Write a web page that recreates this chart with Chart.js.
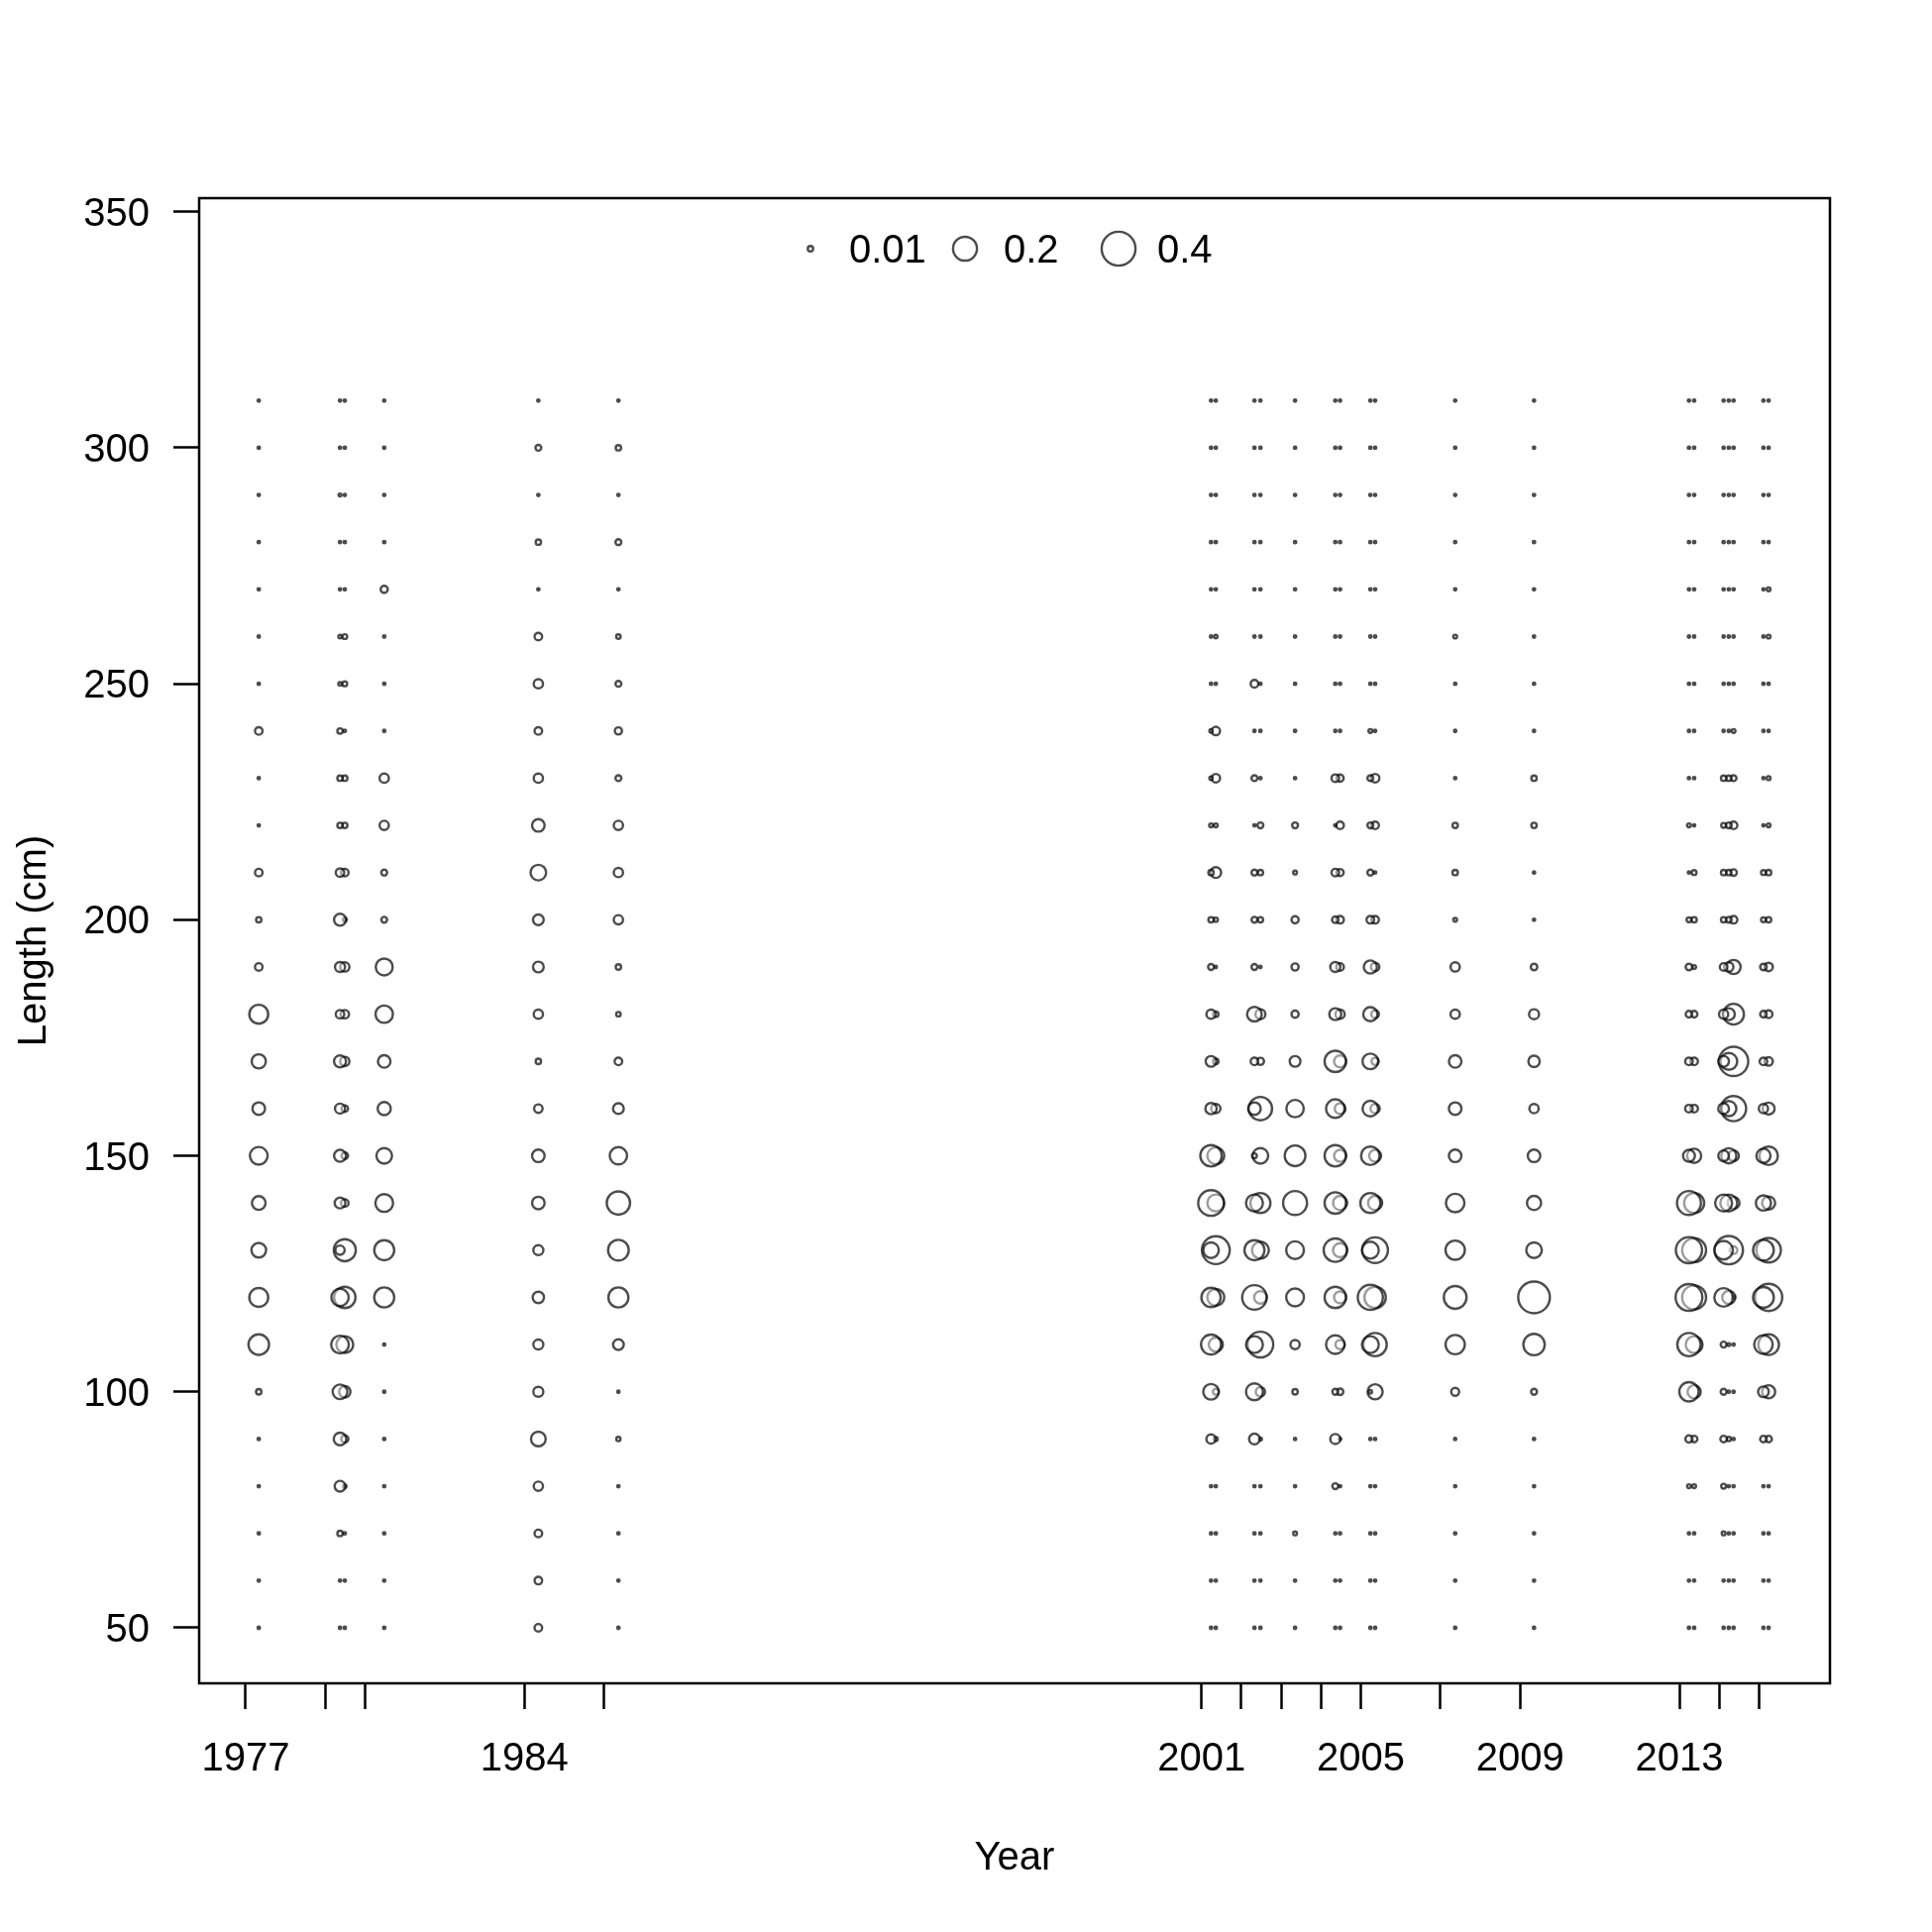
<!DOCTYPE html>
<html>
<head>
<meta charset="utf-8">
<script src="https://cdn.jsdelivr.net/npm/chart.js@4.4.1/dist/chart.umd.min.js"></script>
<style>
    html, body { margin: 0; padding: 0; background: #ffffff; }
</style>
</head>
<body>
<canvas id="lengthCompChart" width="1950" height="1950"></canvas>
<script>
// Length bins, listed top to bottom as in the plot
const lengths = [310, 300, 290, 280, 270, 260, 250, 240, 230, 220, 210, 200, 190, 180,
                 170, 160, 150, 140, 130, 120, 110, 100, 90, 80, 70, 60, 50];

const tickYears = [1977, 1979, 1980, 1984, 1986, 2001, 2002, 2003, 2004, 2005, 2007, 2009, 2013, 2014, 2015];
const labelYears = [1977, 1984, 2001, 2005, 2009, 2013];
const yTicks = [50, 100, 150, 200, 250, 300, 350];
const legendValues = [0.01, 0.2, 0.4];

// Proportion at length for each sample (same order as lengths)
const p1977  = [.002,.002,.002,.002,.002,.002,.002,.02,.002,.002,.02,.01,.02,.125,.07,.055,.11,.065,.075,.125,.148,.01,.002,.002,.002,.002,.002];
const p1979a = [.002,.002,.003,.002,.002,.004,.004,.01,.01,.01,.025,.05,.035,.025,.05,.035,.05,.04,.03,.105,.11,.075,.055,.04,.01,.002,.002];
const p1979b = [.002,.002,.002,.002,.002,.008,.008,.002,.01,.01,.02,.005,.03,.025,.03,.015,.015,.02,.17,.16,.1,.045,.018,.004,.002,.002,.002];
const p1980  = [.002,.002,.002,.002,.018,.002,.002,.002,.03,.03,.012,.012,.1,.105,.055,.06,.085,.11,.14,.14,.002,.002,.002,.002,.002,.002,.002];
const p1984  = [.002,.012,.002,.01,.002,.02,.03,.02,.03,.055,.085,.04,.04,.03,.01,.025,.055,.055,.035,.045,.035,.035,.075,.03,.02,.02,.02];
const p1986  = [.002,.01,.002,.012,.002,.007,.012,.018,.012,.03,.03,.03,.01,.007,.02,.04,.105,.19,.15,.14,.04,.002,.006,.002,.002,.002,.002];
const p2001a = [.002,.002,.002,.002,.002,.002,.002,.004,.004,.005,.01,.01,.012,.03,.04,.045,.16,.23,.085,.13,.14,.085,.03,.002,.002,.002,.002];
const p2001b = [.002,.002,.002,.002,.002,.004,.002,.025,.025,.005,.04,.006,.002,.01,.01,.03,.1,.1,.27,.1,.07,.012,.005,.002,.002,.002,.002];
const p2002a = [.002,.002,.002,.002,.002,.002,.02,.002,.012,.002,.012,.012,.012,.075,.02,.055,.008,.1,.14,.21,.1,.1,.04,.002,.002,.002,.002];
const p2002b = [.002,.002,.002,.002,.002,.002,.002,.002,.002,.012,.01,.01,.002,.035,.018,.19,.085,.14,.1,.055,.23,.03,.003,.002,.002,.002,.002];
const p2003  = [.002,.002,.002,.002,.002,.002,.002,.002,.002,.012,.005,.018,.018,.018,.04,.105,.15,.2,.11,.11,.03,.01,.002,.002,.005,.002,.002];
const p2004a = [.002,.002,.002,.002,.002,.002,.002,.002,.02,.002,.02,.015,.035,.05,.16,.12,.16,.16,.19,.16,.12,.012,.035,.012,.002,.002,.002];
const p2004b = [.002,.002,.002,.002,.002,.002,.002,.002,.018,.02,.018,.02,.02,.03,.05,.04,.05,.07,.07,.05,.03,.015,.002,.002,.002,.002,.002];
const p2005a = [.002,.002,.002,.002,.002,.002,.002,.005,.012,.012,.012,.02,.06,.07,.085,.085,.12,.14,.1,.22,.1,.004,.002,.002,.002,.002,.002];
const p2005b = [.002,.002,.002,.002,.002,.002,.002,.002,.025,.02,.002,.02,.025,.02,.018,.03,.05,.07,.23,.16,.19,.08,.002,.002,.002,.002,.002];
const p2007  = [.002,.002,.002,.002,.002,.005,.002,.002,.002,.01,.01,.005,.03,.03,.055,.055,.055,.12,.13,.18,.13,.022,.002,.002,.002,.002,.002];
const p2009  = [.002,.002,.002,.002,.002,.002,.002,.002,.01,.01,.002,.002,.015,.035,.045,.03,.055,.07,.085,.35,.16,.012,.002,.002,.002,.002,.002];
const p2013a = [.002,.002,.002,.002,.002,.002,.002,.002,.002,.005,.002,.008,.015,.015,.02,.02,.05,.2,.24,.25,.19,.13,.018,.005,.002,.002,.002];
const p2013b = [.002,.002,.002,.002,.002,.002,.002,.002,.002,.002,.008,.01,.005,.015,.02,.02,.07,.14,.2,.2,.1,.06,.015,.005,.002,.002,.002];
const p2014a = [.002,.002,.002,.002,.002,.002,.002,.002,.01,.008,.01,.01,.02,.03,.04,.04,.04,.1,.12,.12,.012,.012,.015,.008,.005,.002,.002];
const p2014b = [.002,.002,.002,.002,.002,.002,.002,.002,.01,.012,.01,.012,.03,.05,.1,.08,.08,.1,.28,.06,.003,.002,.006,.002,.002,.002,.002];
const p2014c = [.002,.002,.002,.002,.002,.002,.002,.005,.012,.02,.015,.02,.07,.15,.3,.22,.04,.05,.02,.003,.002,.002,.002,.002,.002,.002,.002];
const p2015a = [.002,.002,.002,.002,.002,.002,.002,.002,.002,.002,.008,.008,.015,.015,.02,.03,.07,.08,.15,.15,.12,.04,.015,.002,.002,.002,.002];
const p2015b = [.002,.002,.002,.002,.005,.005,.002,.002,.005,.005,.01,.01,.025,.02,.025,.05,.12,.06,.21,.26,.15,.06,.015,.002,.002,.002,.002];

// sample time (year + fraction of year) and its proportions
const samples = [
    [1977.33, p1977], [1979.37, p1979a], [1979.49, p1979b], [1980.48, p1980],
    [1984.35, p1984], [1986.36, p1986],
    [2001.24, p2001a], [2001.36, p2001b], [2002.33, p2002a], [2002.48, p2002b],
    [2003.35, p2003], [2004.36, p2004a], [2004.48, p2004b], [2005.24, p2005a], [2005.36, p2005b],
    [2007.37, p2007], [2009.35, p2009],
    [2013.24, p2013a], [2013.37, p2013b], [2014.11, p2014a], [2014.24, p2014b], [2014.36, p2014c],
    [2015.11, p2015a], [2015.24, p2015b]
];

const fontFamily = '"Liberation Sans", Arial, sans-serif';
const bubbleFill = 'rgba(255,255,255,0.45)';
const bubbleLine = 'rgba(0,0,0,0.7)';

// bubble area proportional to value
function radius(v) {
    return 27 * Math.sqrt(v);
}

const datasets = samples.map(([x, vals]) => ({
    data: vals.map((v, i) => ({ x: x, y: lengths[i], r: radius(v) })),
    backgroundColor: bubbleFill,
    borderColor: bubbleLine,
    borderWidth: 2.4
}));

// frame round the plot region
const boxPlugin = {
    id: 'box',
    afterDatasetsDraw(chart) {
        const { ctx, chartArea: a } = chart;
        ctx.save();
        ctx.strokeStyle = '#000';
        ctx.lineWidth = 2.5;
        ctx.strokeRect(a.left, a.top, a.right - a.left, a.bottom - a.top);
        ctx.restore();
    }
};

// size legend across the top
const sizeLegend = {
    id: 'sizeLegend',
    afterDraw(chart) {
        const ctx = chart.ctx;
        const centers = [818, 974, 1129];
        ctx.save();
        ctx.font = '40px ' + fontFamily;
        ctx.textBaseline = 'middle';
        legendValues.forEach((v, i) => {
            ctx.beginPath();
            ctx.arc(centers[i], 251, radius(v), 0, Math.PI * 2);
            ctx.fillStyle = bubbleFill;
            ctx.fill();
            ctx.lineWidth = 2.4;
            ctx.strokeStyle = bubbleLine;
            ctx.stroke();
            ctx.fillStyle = '#000';
            ctx.fillText(String(v), centers[i] + 39, 254);
        });
        ctx.restore();
    }
};

new Chart(document.getElementById('lengthCompChart'), {
    type: 'bubble',
    data: { datasets: datasets },
    plugins: [boxPlugin, sizeLegend],
    options: {
        responsive: false,
        animation: false,
        events: [],
        layout: { padding: { top: 200, right: 103, left: 0, bottom: 0 } },
        plugins: {
            legend: { display: false },
            tooltip: { enabled: false }
        },
        scales: {
            x: {
                type: 'linear',
                min: 1975.833,
                max: 2016.78,
                afterBuildTicks: s => { s.ticks = tickYears.map(v => ({ value: v })); },
                afterFit: s => { s.height = 251; },
                border: { display: false },
                grid: { drawOnChartArea: false, drawTicks: true, tickLength: 26, tickColor: '#000', tickWidth: 2.5 },
                ticks: {
                    autoSkip: false,
                    maxRotation: 0,
                    padding: 27,
                    color: '#000',
                    font: { size: 40, family: fontFamily },
                    callback: v => labelYears.includes(v) ? String(v) : ''
                },
                title: {
                    display: true,
                    text: 'Year',
                    color: '#000',
                    font: { size: 40, family: fontFamily },
                    padding: { top: 0, bottom: 50 }
                }
            },
            y: {
                type: 'linear',
                min: 38.24,
                max: 352.88,
                afterBuildTicks: s => { s.ticks = yTicks.map(v => ({ value: v })); },
                afterFit: s => { s.width = 201; },
                border: { display: false },
                grid: { drawOnChartArea: false, drawTicks: true, tickLength: 26, tickColor: '#000', tickWidth: 2.5 },
                ticks: {
                    padding: 24,
                    labelOffset: 3,
                    color: '#000',
                    font: { size: 40, family: fontFamily }
                },
                title: {
                    display: true,
                    text: 'Length (cm)',
                    color: '#000',
                    font: { size: 40, family: fontFamily },
                    padding: { top: 11, bottom: 0 }
                }
            }
        }
    }
});
</script>
</body>
</html>
